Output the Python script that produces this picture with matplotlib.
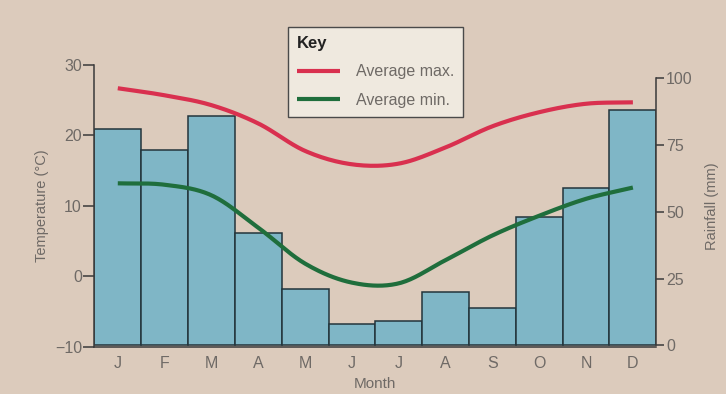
import numpy as np
import matplotlib
matplotlib.use("Agg")
import matplotlib.pyplot as plt

months = ["J", "F", "M", "A", "M", "J", "J", "A", "S", "O", "N", "D"]
rainfall = [81, 73, 86, 42, 21, 8, 9, 20, 14, 48, 59, 88]
temp_max = [26.7, 25.7, 24.3, 21.7, 17.8, 15.9, 16.0, 18.3, 21.3, 23.3, 24.5, 24.7]
temp_min = [13.2, 13.0, 11.5, 6.9, 1.8, -0.9, -1.0, 2.3, 5.8, 8.6, 11.0, 12.6]

BG = "#dccbbc"
TXT = "#6f6a66"
SPINE = "#3a3a3a"


def smooth(xs, ys, n=20):
    # catmull-rom through the points, only to draw the curve smoothly
    xs = np.asarray(xs, float)
    ys = np.asarray(ys, float)
    px = np.concatenate([[2 * xs[0] - xs[1]], xs, [2 * xs[-1] - xs[-2]]])
    py = np.concatenate([[2 * ys[0] - ys[1]], ys, [2 * ys[-1] - ys[-2]]])
    ox, oy = [], []
    t = np.linspace(0, 1, n, endpoint=False)
    for i in range(1, len(px) - 2):
        for p, o in ((px, ox), (py, oy)):
            p0, p1, p2, p3 = p[i - 1], p[i], p[i + 1], p[i + 2]
            o.extend(0.5 * (2 * p1 + (-p0 + p2) * t
                            + (2 * p0 - 5 * p1 + 4 * p2 - p3) * t ** 2
                            + (-p0 + 3 * p1 - 3 * p2 + p3) * t ** 3))
    ox.append(xs[-1])
    oy.append(ys[-1])
    return np.array(ox), np.array(oy)


plt.rcParams["font.family"] = ["Liberation Sans", "DejaVu Sans"]

fig = plt.figure(figsize=(7.26, 3.94), dpi=100, facecolor=BG)
ax_r = fig.add_axes([0.130, 0.120, 0.774, 0.715])
ax_r.set_facecolor("none")
ax_t = ax_r.twinx()
ax_t.yaxis.tick_left()
ax_t.yaxis.set_label_position("left")
ax_r.yaxis.tick_right()
ax_r.yaxis.set_label_position("right")

x = np.arange(len(months))
ax_r.bar(x, rainfall, width=1.0, color="#7fb6c6", edgecolor="#23343b", linewidth=1.1)
ax_r.set_xlim(-0.5, len(months) - 0.5)
ax_r.set_ylim(-0.5, 105)
ax_r.set_yticks([0, 25, 50, 75, 100])
ax_r.spines["right"].set_bounds(0, 100)
ax_r.set_ylabel("Rainfall (mm)", color=TXT, fontsize=10.5, rotation=90, labelpad=9)

sx, sy = smooth(x, temp_max)
ax_t.plot(sx, sy, color="#d9304f", lw=3, solid_capstyle="butt", label="Average max.")
sx, sy = smooth(x, temp_min)
ax_t.plot(sx, sy, color="#1f6e3c", lw=3, solid_capstyle="butt", label="Average min.")
ax_t.set_ylim(-10, 30)
ax_t.set_yticks([-10, 0, 10, 20, 30])
ax_t.set_ylabel("Temperature (°C)", color=TXT, fontsize=10.5, labelpad=4)

for a in (ax_r, ax_t):
    a.spines["top"].set_visible(False)
    for s in a.spines.values():
        s.set_color(SPINE)
        s.set_linewidth(1.1)
ax_r.spines["left"].set_visible(False)
ax_t.spines["right"].set_visible(False)
ax_t.spines["bottom"].set_visible(False)

ax_r.tick_params(axis="y", direction="out", length=6, width=1.1, color=SPINE,
                 labelcolor=TXT, labelsize=11.5, pad=1)
ax_t.tick_params(axis="y", direction="out", length=8, width=1.1, color=SPINE,
                 labelcolor=TXT, labelsize=11.5, pad=1)
ax_r.set_xticks(x)
ax_r.set_xticklabels(months)
ax_r.tick_params(axis="x", length=0, labelcolor=TXT, labelsize=11.5, pad=7)
ax_r.set_xlabel("Month", color=TXT, fontsize=11, labelpad=4)

leg = fig.legend(handles=ax_t.get_lines(), loc="upper left",
                 bbox_to_anchor=(0.397, 0.932), title="Key", alignment="left",
                 fontsize=11.5, title_fontproperties={"weight": "bold", "size": 12},
                 frameon=True, fancybox=False, handlelength=2.7, borderpad=0.55,
                 labelspacing=0.85, handletextpad=1.0, borderaxespad=0)
frame = leg.get_frame()
frame.set_facecolor("#efe9df")
frame.set_edgecolor("#4a4a4a")
frame.set_linewidth(1.0)
frame.set_alpha(1)
for t in leg.get_texts():
    t.set_color(TXT)
leg.get_title().set_color("#222222")
leg.set_zorder(10)

fig.savefig("out.png", dpi=100, facecolor=BG)
